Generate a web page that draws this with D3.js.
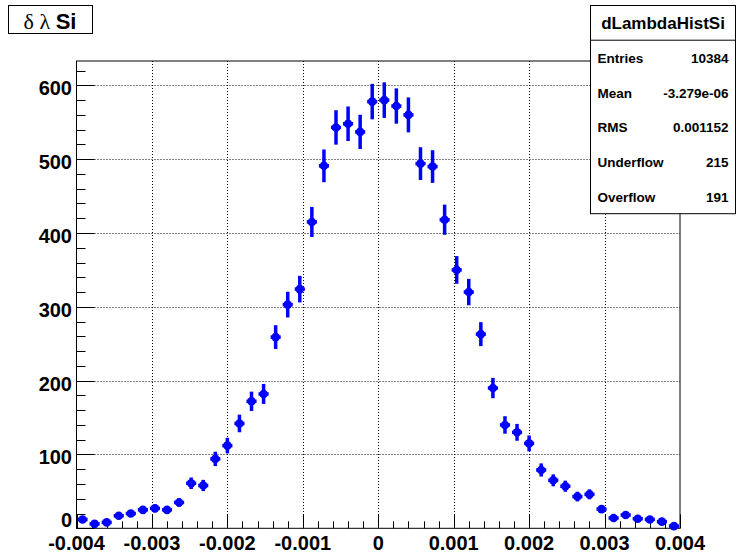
<!DOCTYPE html>
<html><head><meta charset="utf-8">
<script src="https://cdn.jsdelivr.net/npm/d3@7"></script>
<style>
body{margin:0;background:#fff}
svg{display:block}
text{font-family:"Liberation Sans",Arial,Helvetica,sans-serif}
</style></head><body>
<svg id="c" width="736" height="559"></svg>
<script>
// Histogram dLambdaHistSi: 50 bins over [-0.004, 0.004]
const xRange = [-0.004, 0.004];
const counts = [
  12, 6, 8, 17, 20, 25, 27, 25, 35, 61,
  58, 94, 112, 142, 172, 182, 259, 303, 324, 415,
  491, 543, 548, 537, 578, 580, 572, 560, 494, 490,
  418, 350, 320, 263, 190, 140, 130, 115, 79, 65,
  57, 43, 46, 26, 14, 18, 13, 12, 9, 3
];
const xTicks = [-0.004, -0.003, -0.002, -0.001, 0, 0.001, 0.002, 0.003, 0.004];
const xTickLabels = ["-0.004", "-0.003", "-0.002", "-0.001", "0", "0.001", "0.002", "0.003", "0.004"];
const yTicks = [0, 100, 200, 300, 400, 500, 600];
const yTickLabels = ["0", "100", "200", "300", "400", "500", "600"];
const yMax = 633;
const histName = "dLambdaHistSi";
const statLabels = ["Entries", "Mean", "RMS", "Underflow", "Overflow"];
const statValues = ["10384", "-3.279e-06", "0.001152", "215", "191"];

const svg = d3.select("#c");
const frame = {left: 76.5, right: 680, top: 61, bottom: 528.3};
const x = d3.scaleLinear().domain(xRange).range([frame.left, frame.right]);
const y = d3.scaleLinear().domain([0, yMax]).range([frame.bottom, frame.top]);
const nBins = counts.length;
const binW = (xRange[1] - xRange[0]) / nBins;
const bins = counts.map((c, i) => ({x: xRange[0] + (i + 0.5) * binW, v: c, e: Math.sqrt(c)}));

// grid
const grid = svg.append("g").attr("stroke", "#000").attr("stroke-width", 1).attr("stroke-dasharray", "1,2");
grid.selectAll(".gx").data(xTicks.slice(1, -1)).join("line")
  .attr("x1", d => Math.round(x(d)) + 0.5).attr("x2", d => Math.round(x(d)) + 0.5)
  .attr("y1", frame.top).attr("y2", frame.bottom);
grid.selectAll(".gy").data(yTicks.slice(1)).join("line")
  .attr("x1", frame.left).attr("x2", frame.right)
  .attr("y1", d => Math.round(y(d)) + 0.5).attr("y2", d => Math.round(y(d)) + 0.5);

// ticks
const ticks = svg.append("g").attr("stroke", "#000").attr("stroke-width", 1);
const xMinor = d3.range(0, 41).map(i => xRange[0] + i * 0.0002);
ticks.selectAll(".tx").data(xMinor).join("line")
  .attr("x1", d => Math.round(x(d)) + 0.5).attr("x2", d => Math.round(x(d)) + 0.5)
  .attr("y1", frame.bottom).attr("y2", (d, i) => frame.bottom - (i % 5 === 0 ? 14 : 7));
const yMinor = d3.range(0, yMax, 20);
ticks.selectAll(".ty").data(yMinor).join("line")
  .attr("y1", d => Math.round(y(d)) + 0.5).attr("y2", d => Math.round(y(d)) + 0.5)
  .attr("x1", frame.left).attr("x2", (d, i) => frame.left + (i % 5 === 0 ? 18 : 9));

// frame
svg.append("rect").attr("x", frame.left).attr("y", frame.top)
  .attr("width", frame.right - frame.left).attr("height", frame.bottom - frame.top)
  .attr("fill", "none").attr("stroke", "#000").attr("stroke-width", 1);

// tick labels
svg.append("g").selectAll("text").data(xTicks).join("text")
  .attr("x", d => x(d)).attr("y", 549.5).attr("text-anchor", "middle")
  .attr("font-size", 20).attr("font-weight", "bold")
  .text((d, i) => xTickLabels[i]);
svg.append("g").selectAll("text").data(yTicks).join("text")
  .attr("x", 72).attr("y", d => d === 0 ? y(d) - 1 : y(d) + 10).attr("text-anchor", "end")
  .attr("font-size", 20).attr("font-weight", "bold")
  .text((d, i) => yTickLabels[i]);

// data points with error bars
const pts = svg.append("g").attr("stroke", "#0000ff").attr("fill", "#0000ff");
pts.selectAll(".ev").data(bins).join("line")
  .attr("x1", d => x(d.x)).attr("x2", d => x(d.x))
  .attr("y1", d => y(d.v - d.e)).attr("y2", d => y(d.v + d.e))
  .attr("stroke-width", 3.5);
pts.selectAll(".eh").data(bins).join("line")
  .attr("x1", d => x(d.x - 0.42 * binW)).attr("x2", d => x(d.x + 0.42 * binW))
  .attr("y1", d => y(d.v)).attr("y2", d => y(d.v))
  .attr("stroke-width", 3.5);
pts.selectAll("circle").data(bins).join("circle")
  .attr("cx", d => x(d.x)).attr("cy", d => y(d.v)).attr("r", 4.3).attr("stroke", "none");

// title box
svg.append("rect").attr("x", 8.5).attr("y", 5.5).attr("width", 84).attr("height", 28)
  .attr("fill", "#fff").attr("stroke", "#000");
const title = svg.append("text").attr("x", 50).attr("y", 29).attr("text-anchor", "middle").attr("font-size", 22);
title.append("tspan").attr("font-family", "'Liberation Serif','DejaVu Serif',serif").text("δ λ ");
title.append("tspan").attr("font-weight", "bold").text("Si");

// stats box
const sb = {x: 590.5, y: 5.5, w: 145, row: 34.7};
svg.append("rect").attr("x", sb.x).attr("y", sb.y).attr("width", sb.w).attr("height", sb.row * 6)
  .attr("fill", "#fff").attr("stroke", "#000");
svg.append("line").attr("x1", sb.x).attr("x2", sb.x + sb.w)
  .attr("y1", sb.y + sb.row).attr("y2", sb.y + sb.row).attr("stroke", "#000");
svg.append("text").attr("x", sb.x + sb.w / 2).attr("y", sb.y + sb.row / 2 + 6.5)
  .attr("text-anchor", "middle").attr("font-size", 17).attr("font-weight", "bold").text(histName);
const rows = svg.append("g").attr("font-weight", "bold").attr("font-size", 13.5);
rows.selectAll(".sl").data(statLabels).join("text")
  .attr("x", sb.x + 7).attr("y", (d, i) => sb.y + sb.row * (i + 1.5) + 5.5).text(d => d);
rows.selectAll(".sv").data(statValues).join("text")
  .attr("x", sb.x + 138).attr("y", (d, i) => sb.y + sb.row * (i + 1.5) + 5.5)
  .attr("text-anchor", "end").text(d => d);
</script>
</body></html>
